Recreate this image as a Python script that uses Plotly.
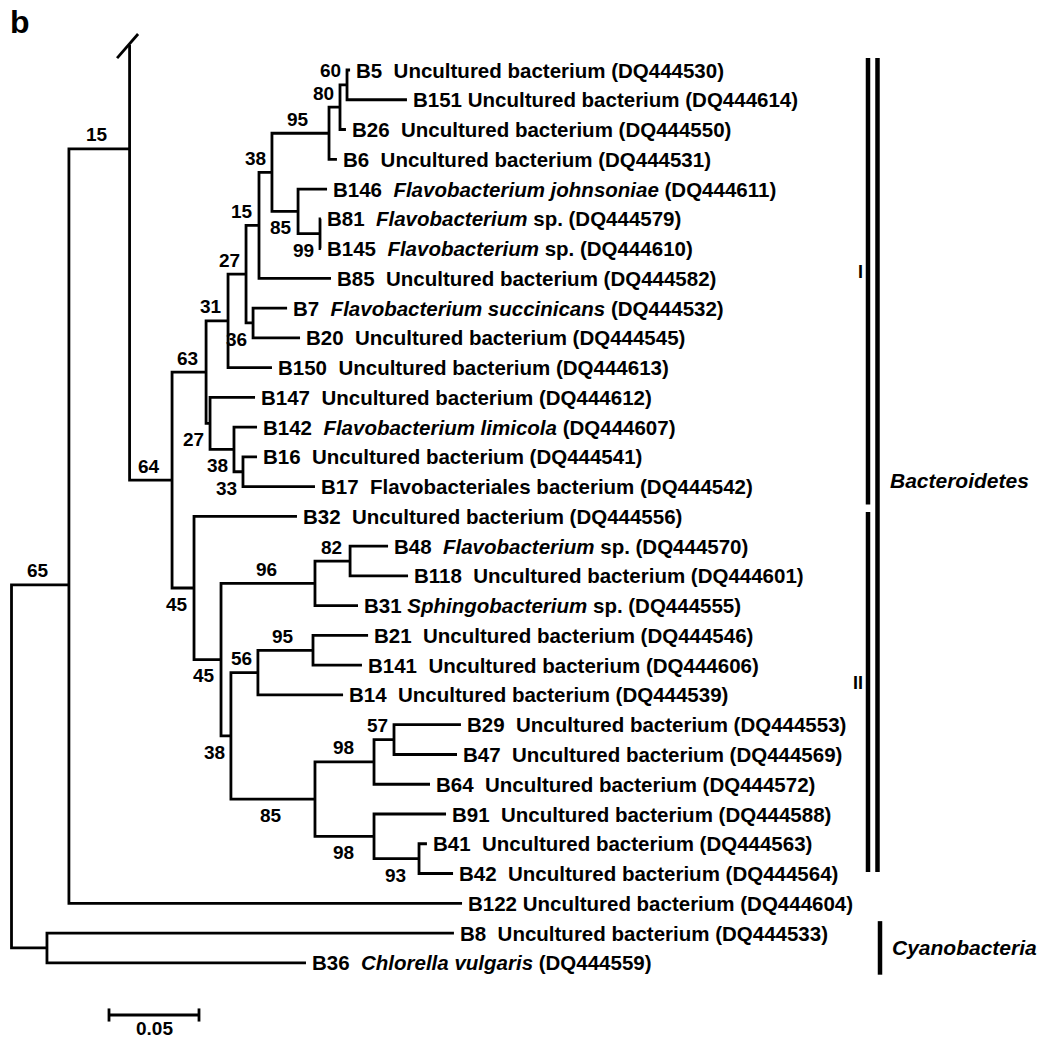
import plotly.graph_objects as go

# ---- tips, top to bottom (row = index) ----
tip_code = ["B5", "B151", "B26", "B6", "B146", "B81", "B145", "B85", "B7", "B20",
            "B150", "B147", "B142", "B16", "B17", "B32", "B48", "B118", "B31", "B21",
            "B141", "B14", "B29", "B47", "B64", "B91", "B41", "B42", "B122", "B8", "B36"]
tip_label = [
    "B5  Uncultured bacterium (DQ444530)",
    "B151 Uncultured bacterium (DQ444614)",
    "B26  Uncultured bacterium (DQ444550)",
    "B6  Uncultured bacterium (DQ444531)",
    "B146  <i>Flavobacterium johnsoniae</i> (DQ444611)",
    "B81  <i>Flavobacterium</i> sp. (DQ444579)",
    "B145  <i>Flavobacterium</i> sp. (DQ444610)",
    "B85  Uncultured bacterium (DQ444582)",
    "B7  <i>Flavobacterium succinicans</i> (DQ444532)",
    "B20  Uncultured bacterium (DQ444545)",
    "B150  Uncultured bacterium (DQ444613)",
    "B147  Uncultured bacterium (DQ444612)",
    "B142  <i>Flavobacterium limicola</i> (DQ444607)",
    "B16  Uncultured bacterium (DQ444541)",
    "B17  Flavobacteriales bacterium (DQ444542)",
    "B32  Uncultured bacterium (DQ444556)",
    "B48  <i>Flavobacterium</i> sp. (DQ444570)",
    "B118  Uncultured bacterium (DQ444601)",
    "B31 <i>Sphingobacterium</i> sp. (DQ444555)",
    "B21  Uncultured bacterium (DQ444546)",
    "B141  Uncultured bacterium (DQ444606)",
    "B14  Uncultured bacterium (DQ444539)",
    "B29  Uncultured bacterium (DQ444553)",
    "B47  Uncultured bacterium (DQ444569)",
    "B64  Uncultured bacterium (DQ444572)",
    "B91  Uncultured bacterium (DQ444588)",
    "B41  Uncultured bacterium (DQ444563)",
    "B42  Uncultured bacterium (DQ444564)",
    "B122 Uncultured bacterium (DQ444604)",
    "B8  Uncultured bacterium (DQ444533)",
    "B36  <i>Chlorella vulgaris</i> (DQ444559)",
]
tip_parent = ["n60", "n60", "n80", "n95", "n85", "n99", "n99", "n15b", "n36", "n36",
              "n31", "n27c", "n38b", "n33", "n33", "n45a", "n82", "n82", "n96", "n95b",
              "n95b", "n56", "n57", "n57", "n98a", "n98b", "n93", "n93", "nA", "ncy", "ncy"]
# root-to-tip distance (substitutions per site)
tip_dist = [0.1881, 0.2197, 0.1858, 0.1808, 0.1753, 0.1719, 0.1719, 0.1775, 0.1531, 0.1603,
            0.1447, 0.1353, 0.1364, 0.1364, 0.1686, 0.1586, 0.2092, 0.2203, 0.1925, 0.1981,
            0.1947, 0.1842, 0.2497, 0.2475, 0.2325, 0.2414, 0.2308, 0.2453, 0.2503, 0.2458, 0.1636]

# ---- internal nodes ----
node_id = ["root", "nA", "ncy", "nB", "n64", "n63", "n31", "n27b", "n15b", "n38",
           "n95", "n80", "n60", "n85", "n99", "n36", "n27c", "n38b", "n33", "n45a",
           "n45b", "n96", "n82", "n38c", "n56", "n95b", "n85b", "n98a", "n57", "n98b", "n93"]
node_parent = [None, "root", "root", "nA", "nB", "n64", "n63", "n31", "n27b", "n15b",
               "n38", "n95", "n80", "n38", "n85", "n27b", "n63", "n27c", "n38b", "n64",
               "n45a", "n45b", "n96", "n45b", "n38c", "n56", "n38c", "n85b", "n98a", "n85b", "n98b"]
node_dist = [0.0, 0.0319, 0.0197, 0.0656, 0.0892, 0.1081, 0.1203, 0.1303, 0.1375, 0.1447,
             0.1764, 0.1825, 0.1864, 0.1592, 0.1714, 0.1342, 0.1103, 0.1236, 0.1286, 0.1014,
             0.1164, 0.1686, 0.1881, 0.1219, 0.1369, 0.1675, 0.1686, 0.2014, 0.2125, 0.2014, 0.2264]
node_support = [None, 65, None, 15, 64, 63, 31, 27, 15, 38,
                95, 80, 60, 85, 99, 36, 27, 38, 33, 45,
                45, 96, 82, 38, 56, 95, 85, 98, 57, 98, 93]
node_label_side = ["", "above", "", "above", "above", "above", "above", "above", "above", "above",
                   "above", "above", "above", "below", "below", "below", "below", "below", "below", "below",
                   "below", "above", "above", "below", "above", "above", "below", "above", "above", "below", "below"]
# nodes drawn off the usual mid-point rule in the original
node_row_fixed = {"nA": 17.3, "nB": 2.65}
cut_row = -0.84  # branch on nB runs off the top of the figure

clade_name = ["I", "II", "<i>Bacteroidetes</i>", "<i>Cyanobacteria</i>"]
clade_first_row = [-0.4, 14.85, -0.4, 28.6]
clade_last_row = [14.6, 26.95, 26.95, 30.4]

scale_len = 0.05

# ---- layout helpers ----
PX = 1800.0          # pixels per unit of distance
X0 = -11.5 / PX
W, H = 1049, 1050
ROW0, ROWH = 70.0, 29.76
FONT = "Liberation Sans, Arial, sans-serif"

dist = dict(zip(tip_code, tip_dist))
dist.update(zip(node_id, node_dist))
parent = dict(zip(tip_code, tip_parent))
parent.update(zip(node_id, node_parent))
children = {}
for k, p in parent.items():
    if p:
        children.setdefault(p, []).append(k)

rows = {t: i for i, t in enumerate(tip_code)}


def row(n):
    if n not in rows:
        if n in node_row_fixed:
            rows[n] = node_row_fixed[n]
        else:
            cr = [row(c) for c in children[n]]
            rows[n] = (min(cr) + max(cr)) / 2
    return rows[n]


xs, ys = [], []
for n in node_id:
    kids = sorted(children[n], key=row)
    first, last = kids[0], kids[-1]
    if n == "nB":
        xs += [dist[n], dist[n], dist[last], None]
        ys += [cut_row, row(last), row(last), None]
    else:
        xs += [dist[first], dist[n], dist[n], dist[last], None]
        ys += [row(first), row(first), row(last), row(last), None]

fig = go.Figure()
fig.add_trace(go.Scatter(x=xs, y=ys, mode="lines", hoverinfo="skip",
                         line=dict(color="black", width=2.8)))

# break mark on the truncated branch
bx = dist["nB"]
fig.add_trace(go.Scatter(x=[bx - 12.5 / PX, bx + 8.5 / PX], y=[cut_row + 0.44, cut_row - 0.37],
                         mode="lines", hoverinfo="skip", line=dict(color="black", width=2.8)))

ann = []
for code, lab, d in zip(tip_code, tip_label, tip_dist):
    ann.append(dict(x=d, y=rows[code], text=lab.replace("  ", "\u00a0\u00a0"),
                    xanchor="left", yanchor="middle", xshift=4, showarrow=False,
                    font=dict(family=FONT, size=20.5, color="black", weight="bold")))

for n, s, side in zip(node_id, node_support, node_label_side):
    if s is None:
        continue
    p = parent[n]
    mid = (dist[p] + dist[n]) / 2
    xr = min(dist[n] - 4 / PX, mid + 11 / PX)
    y = row(n) + (-0.47 if side == "above" else 0.55)
    ann.append(dict(x=xr, y=y, text=str(s), xanchor="right", yanchor="middle",
                    showarrow=False, font=dict(family=FONT, size=19, color="black", weight="bold")))

# clade bars
bar_x = [868, 868, 877.5, 880]
for name, r0, r1, bxp in zip(clade_name, clade_first_row, clade_last_row, bar_x):
    x = (bxp - 11.5) / PX
    fig.add_trace(go.Scatter(x=[x, x], y=[r0, r1], mode="lines", hoverinfo="skip",
                             line=dict(color="black", width=4.5)))
    if name in ("I", "II"):
        ann.append(dict(x=x, y=(r0 + r1) / 2 - 0.3, text=name, xanchor="right", xshift=-3,
                        showarrow=False, font=dict(family=FONT, size=18, color="black", weight="bold")))
    else:
        ann.append(dict(x=x, y=(r0 + r1) / 2 if r0 > 0 else 13.8, text=name, xanchor="left",
                        xshift=10, showarrow=False,
                        font=dict(family=FONT, size=21, color="black", weight="bold")))

# scale bar
sx0 = (109 - 11.5) / PX
sr = (1015 - ROW0) / ROWH
fig.add_trace(go.Scatter(x=[sx0, sx0, None, sx0, sx0 + scale_len, None,
                            sx0 + scale_len, sx0 + scale_len],
                         y=[sr - 0.22, sr + 0.22, None, sr, sr, None, sr - 0.22, sr + 0.22],
                         mode="lines", hoverinfo="skip", line=dict(color="black", width=2.8)))
ann.append(dict(x=sx0 + scale_len / 2, y=sr + 0.44, text=f"{scale_len:.2f}", yanchor="middle",
                showarrow=False, font=dict(family=FONT, size=19, color="black", weight="bold")))

ann.append(dict(x=8 / W, y=1 - 2 / H, xref="paper", yref="paper", text="b", xanchor="left",
                yanchor="top", showarrow=False,
                font=dict(family=FONT, size=32, color="black", weight="bold")))

fig.update_layout(
    width=W, height=H, margin=dict(l=0, r=0, t=0, b=0),
    paper_bgcolor="white", plot_bgcolor="white", showlegend=False,
    xaxis=dict(range=[X0, X0 + W / PX], visible=False, fixedrange=True),
    yaxis=dict(range=[(H - ROW0) / ROWH, -ROW0 / ROWH], visible=False, fixedrange=True),
    annotations=ann,
)
fig.write_html("out.html", config={"displayModeBar": False},
               post_script="document.body.style.margin='0px';")
